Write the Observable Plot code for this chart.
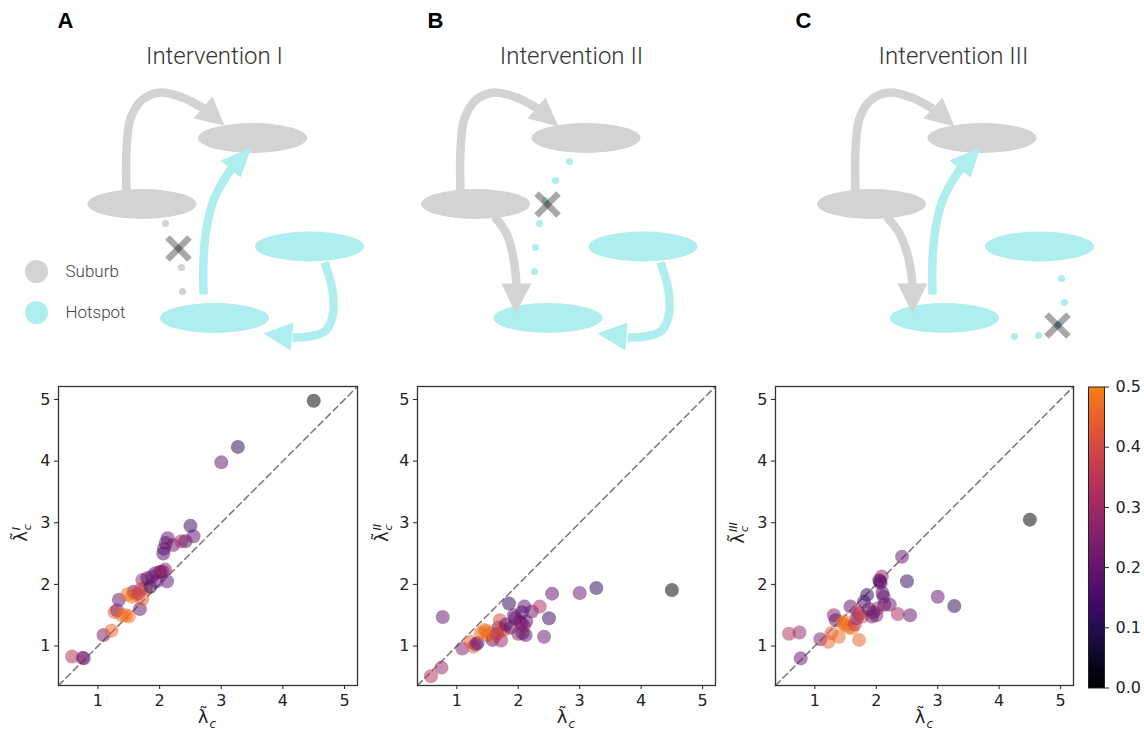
<!DOCTYPE html>
<html><head><meta charset="utf-8">
<script src="https://cdn.jsdelivr.net/npm/d3@7"></script>
<script src="https://cdn.jsdelivr.net/npm/@observablehq/plot@0.6"></script>
<style>
body{margin:0;background:#fff;}
#fig{position:relative;width:1144px;height:731px;overflow:hidden;background:#fff;}
.lab{position:absolute;font-family:"DejaVu Sans";font-size:18px;color:#222;white-space:nowrap;line-height:1;}
.st{display:inline-flex;flex-direction:column;vertical-align:middle;font-size:11px;line-height:1.0;font-style:italic;margin-left:1px;}
.sb{font-size:12px;font-style:italic;position:relative;top:5px;margin-left:1px;}
</style></head><body><div id="fig"></div>
<script>
// ---------------- DATA: scatter (shared nodes across interventions) ----------------
const lamC   = [0.58,0.75,0.77,1.09,1.22,1.27,1.31,1.34,1.39,1.45,1.50,1.55,1.58,1.61,1.68,1.70,1.72,1.72,1.77,1.80,1.85,1.88,1.93,2.02,2.05,2.07,2.09,2.10,2.12,2.13,2.06,2.22,2.35,2.42,2.50,2.55,3.00,3.27,4.50,1.48,1.65,1.95,2.00];
const share  = [0.33,0.28,0.20,0.24,0.45,0.44,0.25,0.20,0.46,0.48,0.47,0.49,0.19,0.48,0.20,0.40,0.45,0.28,0.40,0.17,0.11,0.20,0.21,0.30,0.24,0.18,0.28,0.19,0.19,0.20,0.17,0.21,0.31,0.20,0.12,0.19,0.20,0.10,0.00,0.47,0.35,0.19,0.24];
const lamI   = [0.83,0.81,0.80,1.18,1.25,1.55,1.58,1.75,1.50,1.50,1.48,1.80,1.88,1.83,1.60,1.92,1.76,2.07,1.94,2.10,1.96,2.13,2.18,2.20,2.21,2.58,2.24,2.67,2.05,2.75,2.50,2.64,2.70,2.70,2.95,2.78,3.98,4.23,4.98,1.84,1.85,2.05,2.20];
const lamII  = [0.51,0.65,1.47,0.96,1.07,0.99,1.03,1.05,1.21,1.26,1.18,1.21,1.10,1.16,1.30,1.42,1.26,1.09,1.26,1.35,1.69,1.30,1.50,1.40,1.37,1.21,1.33,1.64,1.18,1.40,1.55,1.56,1.64,1.15,1.45,1.85,1.86,1.94,1.91,1.24,1.20,1.45,1.20];
const lamIII = [1.20,1.22,0.80,1.11,1.07,1.21,1.50,1.42,1.15,1.37,1.34,1.30,1.64,1.29,1.45,1.56,1.10,1.52,1.48,1.72,1.83,1.60,1.48,1.61,2.07,2.02,2.13,1.86,1.80,1.67,2.05,1.67,1.52,2.45,2.05,1.50,1.80,1.65,3.05,1.40,1.35,1.55,1.50];
const axisTicks = [1,2,3,4,5];
const axisDomain = [0.36, 5.21];
const cbarTicks = [0,0.1,0.2,0.3,0.4,0.5];
const cbarDomain = [0, 0.5];

// ---------------- DATA: schematic diagrams (page pixel coordinates) ----------------
const letters = [{t:"A",x:57,y:20},{t:"B",x:427,y:20},{t:"C",x:795,y:20}];
const titles  = [{t:"Intervention I",x:214,y:56},{t:"Intervention II",x:571,y:56},{t:"Intervention III",x:953,y:56}];
const patches = [
  {kind:"suburb",cx:252.5,cy:138},{kind:"suburb",cx:142,cy:204},{kind:"hotspot",cx:309.5,cy:246.5},{kind:"hotspot",cx:214.5,cy:318},
  {kind:"suburb",cx:586,cy:138},{kind:"suburb",cx:475.5,cy:204},{kind:"hotspot",cx:643,cy:246.5},{kind:"hotspot",cx:548,cy:318},
  {kind:"suburb",cx:982,cy:138},{kind:"suburb",cx:871.5,cy:204},{kind:"hotspot",cx:1039.5,cy:246.5},{kind:"hotspot",cx:944.5,cy:318}
];
const shafts = [
  {id:"A1",kind:"suburb",pts:[[126,193],[126,150],[130,118],[142,99],[160,92],[182,97],[203,108]]},
  {id:"A2",kind:"hotspot",pts:[[203,294],[203,260],[206,228],[213,200],[222,182],[231,168]]},
  {id:"A3",kind:"hotspot",pts:[[324,262],[332,290],[332,316],[324,331],[308,336],[292,337]]},
  {id:"B1",kind:"suburb",pts:[[460,193],[460,150],[464,118],[476,99],[494,92],[516,97],[537,108]]},
  {id:"B2",kind:"suburb",pts:[[494,216],[506,233],[513,258],[516,284]]},
  {id:"B3",kind:"hotspot",pts:[[660,262],[668,290],[668,316],[660,331],[644,336],[627,337]]},
  {id:"C1",kind:"suburb",pts:[[855,193],[855,150],[859,118],[871,99],[889,92],[911,97],[932,108]]},
  {id:"C2",kind:"suburb",pts:[[886,216],[899,233],[908,258],[912,284]]},
  {id:"C3",kind:"hotspot",pts:[[932,294],[932,260],[935,228],[942,200],[951,182],[960,168]]}
];
const heads = [
  {id:"A1",kind:"suburb",pts:[[224,125],[193,118],[212,96]]},
  {id:"A2",kind:"hotspot",pts:[[251,147],[220,160],[240,177]]},
  {id:"A3",kind:"hotspot",pts:[[263,333],[293,322],[290,350]]},
  {id:"B1",kind:"suburb",pts:[[558,126],[527,118],[545,97]]},
  {id:"B2",kind:"suburb",pts:[[515,313],[501,283],[531,283]]},
  {id:"B3",kind:"hotspot",pts:[[597,333],[627,322],[625,350]]},
  {id:"C1",kind:"suburb",pts:[[954,126],[923,118],[942,97]]},
  {id:"C2",kind:"suburb",pts:[[912,313],[897,283],[927,283]]},
  {id:"C3",kind:"hotspot",pts:[[980,147],[949,160],[970,177]]}
];
const blockedDots = [
  {kind:"suburb",x:165,y:223},{kind:"suburb",x:181,y:267},{kind:"suburb",x:182,y:291},
  {kind:"hotspot",x:569,y:161},{kind:"hotspot",x:555,y:180},{kind:"hotspot",x:545,y:200},{kind:"hotspot",x:539,y:223},{kind:"hotspot",x:535,y:247},{kind:"hotspot",x:534,y:271},
  {kind:"hotspot",x:1061,y:278},{kind:"hotspot",x:1064,y:302},{kind:"hotspot",x:1058,y:324},{kind:"hotspot",x:1038,y:335},{kind:"hotspot",x:1014,y:336}
];
const crosses = [{x:178,y:248},{x:547,y:204},{x:1057,y:325}];
const legendItems = [{kind:"suburb",label:"Suburb",x:36,y:271},{kind:"hotspot",label:"Hotspot",x:36,y:312}];

// ---------------- STYLE ----------------
const SUBURB = "lightgray", HOTSPOT = "paleturquoise";
const fig = document.getElementById("fig");
function place(el, left, top){ el.style.position="absolute"; el.style.left=left+"px"; el.style.top=top+"px"; fig.appendChild(el); }
const rows = arr => arr.flatMap(s => s.pts.map(([x,y]) => ({id:s.id, kind:s.kind, x, y})));
const shaftRows = rows(shafts), headRows = rows(heads);

const diagram = Plot.plot({
  width:1144, height:365, marginTop:0, marginRight:0, marginBottom:0, marginLeft:0,
  x:{domain:[0,1144], range:[0,1144], axis:null},
  y:{domain:[0,365], range:[0,365], axis:null},
  color:{domain:["suburb","hotspot"], range:[SUBURB, HOTSPOT]},
  style:{background:"transparent"},
  marks:[
    Plot.rect(patches,{x1:d=>d.cx-54.5,x2:d=>d.cx+54.5,y1:d=>d.cy-15,y2:d=>d.cy+15,fill:"kind",rx:54.5,ry:15}),
    Plot.line(shaftRows,{x:"x",y:"y",z:"id",stroke:"kind",strokeWidth:8.5,curve:"catmull-rom",strokeLinecap:"butt"}),
    Plot.line(headRows.filter(d=>d.kind==="suburb"),{x:"x",y:"y",z:"id",fill:SUBURB,stroke:"none",curve:"linear-closed"}),
    Plot.line(headRows.filter(d=>d.kind==="hotspot"),{x:"x",y:"y",z:"id",fill:HOTSPOT,stroke:"none",curve:"linear-closed"}),
    Plot.dot(blockedDots,{x:"x",y:"y",fill:"kind",r:3.6,stroke:"none"}),
    Plot.link(crosses,{x1:d=>d.x-11,y1:d=>d.y-11,x2:d=>d.x+11,y2:d=>d.y+11,stroke:"black",strokeOpacity:0.34,strokeWidth:6.5}),
    Plot.link(crosses,{x1:d=>d.x-11,y1:d=>d.y+11,x2:d=>d.x+11,y2:d=>d.y-11,stroke:"black",strokeOpacity:0.34,strokeWidth:6.5}),
    Plot.dot(legendItems,{x:"x",y:"y",fill:"kind",r:11.5,stroke:"none"}),
    Plot.text(legendItems,{x:d=>d.x+29,y:"y",text:"label",textAnchor:"start",fontSize:17,fontWeight:300,fontFamily:"Roboto",fill:"#444"}),
    Plot.text(titles,{x:"x",y:"y",text:"t",fontSize:24,fontWeight:300,fontFamily:"Roboto",fill:"#333"}),
    Plot.text(letters,{x:"x",y:"y",text:"t",textAnchor:"start",fontSize:22,fontWeight:"bold",fontFamily:"Liberation Sans",fill:"#000"})
  ]
});
place(diagram, 0, 0);

// ---------------- scatter panels ----------------
const colorScale = {type:"linear", domain:cbarDomain, interpolate:()=>t=>d3.interpolateInferno(t*0.72)};
const nodes = lamC.map((x,i)=>({x, c:share[i], I:lamI[i], II:lamII[i], III:lamIII[i]}));
function scatter(key, width, mL, mR){
  return Plot.plot({
    width, height:360, marginLeft:mL, marginRight:mR, marginTop:16, marginBottom:45,
    x:{domain:axisDomain, ticks:axisTicks, tickFormat:d=>String(d), tickSize:4, tickPadding:5, label:null},
    y:{domain:axisDomain, ticks:axisTicks, tickFormat:d=>String(d), tickSize:4, tickPadding:4, label:null},
    color:colorScale,
    style:{fontFamily:"DejaVu Sans", fontSize:"16px", color:"#222", background:"transparent"},
    marks:[
      Plot.line(axisDomain,{x:d=>d,y:d=>d,stroke:"#777",strokeWidth:1.5,strokeDasharray:"6.5,4"}),
      Plot.dot(nodes,{x:"x",y:key,fill:"c",r:7,fillOpacity:0.52,stroke:"none"}),
      Plot.frame({stroke:"#333",strokeWidth:1.3})
    ]
  });
}
place(scatter("I",380,58,23), 0, 370);
place(scatter("II",340,37,5), 380, 370);
place(scatter("III",340,35,7), 740, 370);

// ---------------- colour bar ----------------
const cbarBands = d3.range(0, 0.5, 0.0025);
const cbar = Plot.plot({
  width:64, height:360, marginLeft:8, marginRight:40, marginTop:16.5, marginBottom:42.5,
  y:{domain:cbarDomain, ticks:cbarTicks, tickFormat:".1f", axis:"right", tickSize:4, tickPadding:7, label:null},
  color:colorScale,
  style:{fontFamily:"DejaVu Sans", fontSize:"16px", color:"#222", background:"transparent"},
  marks:[
    Plot.rect(cbarBands,{y1:d=>d,y2:d=>Math.min(0.5,d+0.003),fill:d=>d,shapeRendering:"crispEdges"}),
    Plot.frame({stroke:"#222",strokeWidth:1})
  ]
});
place(cbar, 1080, 370);

// ---------------- axis labels ----------------
function label(html, cx, cy, rot){
  const d=document.createElement("div"); d.className="lab"; d.innerHTML=html;
  d.style.left=cx+"px"; d.style.top=cy+"px";
  d.style.transform="translate(-50%,-50%)"+(rot?" rotate(-90deg)":"");
  fig.appendChild(d);
}
const xl = "λ̃<span class='sb'>c</span>";
label(xl, 207, 717, false);
label(xl, 566, 717, false);
label(xl, 924, 717, false);
label("λ̃<span class='st'><span>I</span><span>c</span></span>", 22, 533, true);
label("λ̃<span class='st'><span>II</span><span>c</span></span>", 383, 533, true);
label("λ̃<span class='st'><span>III</span><span>c</span></span>", 739, 533, true);
</script></body></html>
